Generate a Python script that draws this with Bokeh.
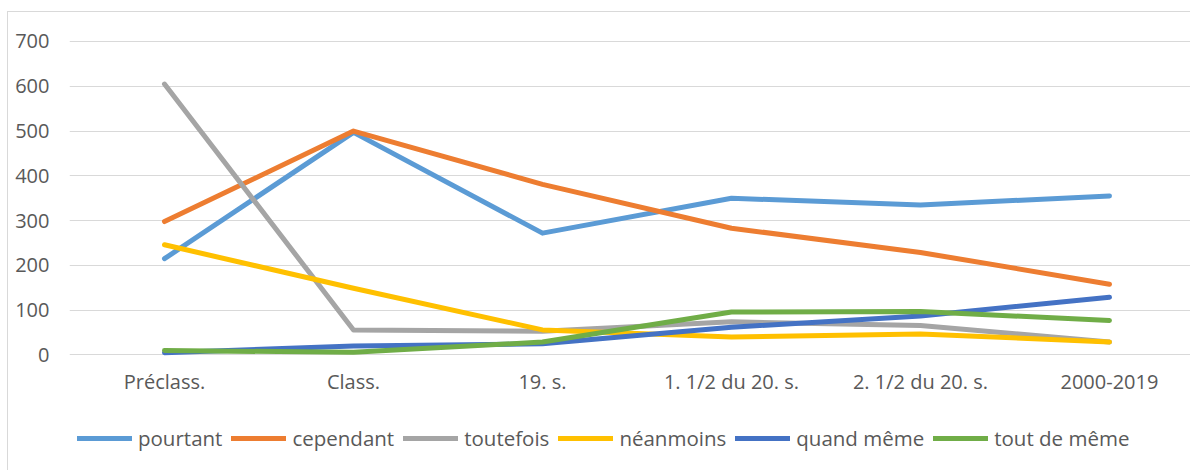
from bokeh.plotting import figure
from bokeh.models import (Range1d, FixedTicker, Legend, LegendItem)
from bokeh.embed import file_html
from bokeh.resources import INLINE

categories = ["Préclass.", "Class.", "19. s.", "1. 1/2 du 20. s.", "2. 1/2 du 20. s.", "2000-2019"]
y_ticks = [0, 100, 200, 300, 400, 500, 600, 700]

series_names = ["pourtant", "cependant", "toutefois", "néanmoins", "quand même", "tout de même"]
pourtant = [215, 497, 272, 350, 335, 355]
cependant = [298, 500, 381, 283, 229, 158]
toutefois = [605, 56, 53, 74, 66, 29]
neanmoins = [246, 149, 56, 40, 47, 29]
quand_meme = [5, 20, 25, 62, 87, 129]
tout_de_meme = [10, 6, 29, 96, 97, 77]
series_values = [pourtant, cependant, toutefois, neanmoins, quand_meme, tout_de_meme]
colors = ["#5B9BD5", "#ED7D31", "#A5A5A5", "#FFC000", "#4472C4", "#70AD47"]

FONT = "Open Sans"
TEXT = "#595959"

xs = list(range(len(categories)))

# frame spans the whole lower area so the legend (drawn inside the frame) is not clipped
p = figure(width=1183, height=459, output_backend="svg", toolbar_location=None,
           x_range=Range1d(-0.5026, 5.434), y_range=Range1d(-251.2, 711.1),
           min_border_left=61, min_border_right=0, min_border_top=24,
           min_border_bottom=4)
p.margin = (11, 0, 0, 7)
p.styles = {"border-left": "1px solid #d9d9d9", "border-top": "1px solid #d9d9d9"}
p.outline_line_color = None
p.background_fill_color = "white"
p.border_fill_color = "white"

p.xgrid.visible = False
p.ygrid.grid_line_color = "#d9d9d9"
p.ygrid.grid_line_width = 1

p.yaxis.ticker = FixedTicker(ticks=y_ticks)
p.xaxis.ticker = FixedTicker(ticks=xs)
p.xaxis.major_label_overrides = {i: c for i, c in zip(xs, categories)}
for ax in (p.xaxis, p.yaxis):
    ax.axis_line_color = None
    ax.major_tick_line_color = None
    ax.minor_tick_line_color = None
    ax.major_tick_out = 0
    ax.major_tick_in = 0
    ax.major_label_text_font = FONT
    ax.major_label_text_font_size = "20px"
    ax.major_label_text_color = TEXT
p.yaxis.major_label_standoff = 20
p.xaxis.major_label_standoff = -100

items = []
for name, vals, col in zip(series_names, series_values, colors):
    r = p.line(xs, vals, line_color=col, line_width=5, line_cap="round", line_join="round")
    items.append(LegendItem(label=name, renderers=[r]))

legend = Legend(items=items, orientation="horizontal", location=(8, 15),
                border_line_color=None, background_fill_alpha=0,
                padding=0, margin=0, glyph_width=55, glyph_height=20,
                label_standoff=6, spacing=9,
                label_text_font=FONT, label_text_font_size="20.5px",
                label_text_color=TEXT)
p.add_layout(legend)

open("out.html", "w").write(file_html(p, INLINE))
